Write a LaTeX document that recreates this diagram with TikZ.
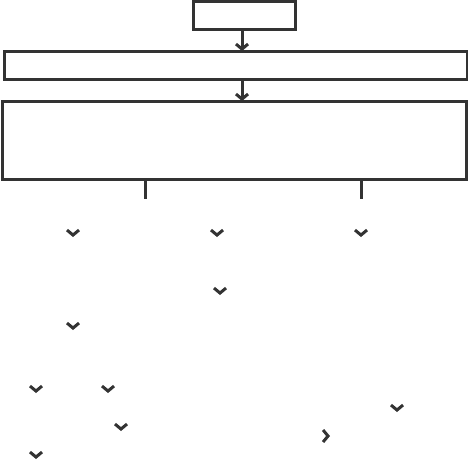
\documentclass[tikz,border=0pt]{standalone}
\usepackage{tikz}
\usetikzlibrary{arrows.meta, calc, positioning}
\definecolor{Ink}{HTML}{333333}

\begin{document}
\begin{tikzpicture}[x=1pt, y=-1pt,
  box/.style={draw=Ink, line width=3pt, line cap=rect, inner sep=0pt, outer sep=0pt},
  arr/.style={-{Straight Barb[length=5pt, width=12pt, line width=3pt]}, Ink, line width=3pt},
  tip/.style={-{Straight Barb[length=5pt, width=12pt, line width=3pt]}, Ink, line width=0.1pt},
]
\useasboundingbox (0,0) rectangle (468,464);
% boxes
\node[box, minimum width=102pt, minimum height=28pt] (start) at (244,15.5) {};
\node[box, minimum width=463pt, minimum height=28pt] (wide) at (235.5,65) {};
\node[box, minimum width=464pt, minimum height=78pt] (big) at (234,140) {};
\draw[arr] ([xshift=-2pt]start.south) -- ([xshift=-2pt]start.south |- wide.north);
\draw[arr] ([xshift=-2pt]start.south |- wide.south) -- ([xshift=-2pt]start.south |- big.north);
% stubs under the big box
\coordinate (stubL) at (145,197);
\coordinate (stubR) at (361,197);
\draw[box] (big.south -| stubL) -- (stubL);
\draw[box] (big.south -| stubR) -- (stubR);
% loose arrow heads
\coordinate (t1) at (73,237);
\coordinate (t2) at (217,237);
\coordinate (t3) at (361,237);
\coordinate (t4) at (220,295);
\coordinate (t5) at (73,330);
\coordinate (t6) at (36,393);
\coordinate (t7) at (108,393);
\coordinate (t8) at (397,412);
\coordinate (t9) at (121,431);
\coordinate (t11) at (36,459);
\foreach \t in {t1,t2,t3,t4,t5,t6,t7,t8,t9,t11}
  \draw[tip] ($(\t)+(0,-1)$) -- (\t);
\coordinate (t10) at (330,436);
\draw[tip] ($(t10)+(-1,0)$) -- (t10);
\end{tikzpicture}
\end{document}
